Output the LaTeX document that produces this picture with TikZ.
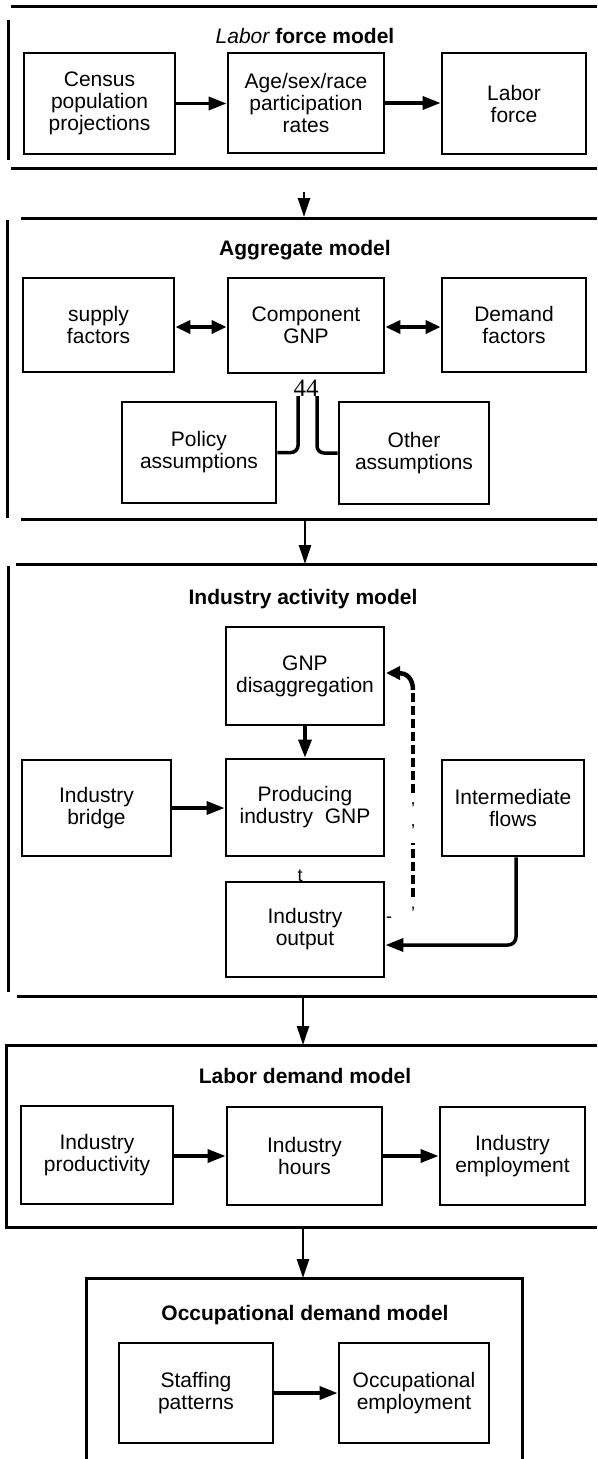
\documentclass[tikz,border=0pt]{standalone}
\usepackage{fontspec}
\setmainfont{Liberation Sans}
\newfontfamily\numfont{Liberation Serif}
\usetikzlibrary{arrows.meta}
\begin{document}
\begin{tikzpicture}[x=1pt,y=-1pt,
  bx/.style={draw,line width=2.8pt,inner sep=0pt,align=center,font=\fontsize{21}{22}\selectfont},
  ttl/.style={anchor=base,inner sep=0pt,font=\fontsize{21}{22}\selectfont\bfseries},
  secline/.style={line width=3pt},
  flow/.style={line width=3.5pt,-{Triangle[length=18pt,width=13pt]}},
  both/.style={line width=3.5pt,{Triangle[length=15pt,width=13pt]}-{Triangle[length=15pt,width=13pt]}},
  down/.style={line width=2.5pt,-{Triangle[length=19pt,width=12pt]}},
  feed/.style={line width=3.5pt,rounded corners=7pt},
  dashline/.style={line width=4.5pt,dash pattern=on 9pt off 4pt},
  glyph/.style={inner sep=0pt,font=\fontsize{18}{18}\selectfont}
]
\useasboundingbox (0,0) rectangle (597,1459);

% ---------- Section 1: Labor force model
\draw[secline] (11,6) -- (597,6);
\draw[secline] (8,20) -- (8,160);
\draw[secline] (11,168) -- (597,168);
\node[ttl] (t1) at (305,43) {{\mdseries\itshape Labor} force model};
\node[bx,minimum width=151pt,minimum height=101pt] (census) at (99.5,103.5) {Census\\population\\projections};
\node[bx,minimum width=156pt,minimum height=100pt] (age) at (306,103) {Age/sex/race\\participation\\rates};
\node[bx,minimum width=144pt,minimum height=101pt] (lf) at (514,103.5) {Labor\\force};
\draw[flow] (census.east) -- (census.east -| age.west);
\draw[flow] (age.east) -- (age.east -| lf.west);

\coordinate (s1b) at (304,192);
\coordinate (s2t) at (304,217);
\draw[down] (s1b) -- (s2t);

% ---------- Section 2: Aggregate model
\draw[secline] (21,218) -- (597,218);
\draw[secline] (7,220) -- (7,518);
\draw[secline] (21,519) -- (597,519);
\node[ttl] (t2) at (305,255) {Aggregate model};
\node[bx,minimum width=151pt,minimum height=94pt] (supply) at (98.5,325) {supply\\factors};
\node[bx,minimum width=156pt,minimum height=95pt] (comp) at (306,325.5) {Component\\GNP};
\node[bx,minimum width=144pt,minimum height=94pt] (demand) at (514,325) {Demand\\factors};
\draw[both] (supply.east |- 0,327) -- (comp.west |- 0,327);
\draw[both] (comp.east |- 0,327) -- (demand.west |- 0,327);
\node[inner sep=0pt,font=\numfont\fontsize{25}{25}\selectfont] (ff) at (306,388) {44};
\node[bx,minimum width=154pt,minimum height=101pt] (policy) at (199,452.5) {Policy\\assumptions};
\node[bx,minimum width=150pt,minimum height=102pt] (other) at (414,453) {Other\\assumptions};
\coordinate (pend) at (298,396);
\coordinate (oend) at (317,396);
\draw[feed] (policy.east) -- (pend |- policy.east) -- (pend);
\draw[feed] (other.west) -- (oend |- other.west) -- (oend);

\coordinate (s2b) at (305,521);
\coordinate (s3t) at (305,564);
\draw[down] (s2b) -- (s3t);

% ---------- Section 3: Industry activity model
\draw[secline] (16,564) -- (597,564);
\draw[secline] (8,566) -- (8,992);
\draw[secline] (17,996) -- (597,996);
\node[ttl] (t3) at (303,604) {Industry activity model};
\node[bx,minimum width=158pt,minimum height=98pt] (disagg) at (305,676) {GNP\\disaggregation};
\node[bx,minimum width=158pt,minimum height=97pt] (prod) at (305,807.5) {Producing\\industry\ \ GNP};
\node[bx,minimum width=149pt,minimum height=96pt] (bridge) at (96.5,808) {Industry\\bridge};
\node[bx,minimum width=142pt,minimum height=96pt] (inter) at (513,808) {Intermediate\\flows};
\node[bx,minimum width=158pt,minimum height=95pt] (output) at (305,929.5) {Industry\\output};
\draw[flow] (disagg) -- (prod);
\draw[flow] (bridge.east) -- (bridge.east -| prod.west);
\draw[flow,rounded corners=8pt] ([xshift=3pt]inter.south) -- ([xshift=3pt]inter.south |- 0,945) -- (output.east |- 0,945);

\node[glyph,anchor=base] (tt) at (300,881) {t};
\node[glyph] (dash1) at (389,920) {-};
\node[glyph] (apos) at (413,913) {'};
\node[glyph] (com1) at (413,805) {,};
\node[glyph] (com2) at (413,827) {,};

\coordinate (dA) at (413,897);
\coordinate (dB) at (413,843);
\coordinate (dC) at (413,793);
\coordinate (dD) at (413,690);
\coordinate (dE) at (386,673);
\draw[dashline] (dA) -- (dB);
\draw[dashline] (dC) -- (dD);
\draw[line width=4.5pt,-{Triangle[length=14pt,width=13pt]}] (dD) .. controls (413,678) and (406,673) .. (dE);

\coordinate (s3b) at (303,998);
\coordinate (s4t) at (303,1045);
\draw[down] (s3b) -- (s4t);

% ---------- Section 4: Labor demand model
\draw[secline] (597,1045) -- (6,1045) -- (6,1227) -- (597,1227);
\node[ttl] (t4) at (305,1083) {Labor demand model};
\node[bx,minimum width=152pt,minimum height=98pt] (produc) at (97,1155) {Industry\\productivity};
\node[bx,minimum width=155pt,minimum height=98pt] (hours) at (304.5,1156) {Industry\\hours};
\node[bx,minimum width=145pt,minimum height=98pt] (empl) at (512.5,1156) {Industry\\employment};
\draw[flow] (produc.east |- 0,1156) -- (hours.west |- 0,1156);
\draw[flow] (hours.east) -- (hours.east -| empl.west);

\coordinate (s4b) at (303,1229);
\coordinate (s5t) at (303,1278);
\draw[down] (s4b) -- (s5t);

% ---------- Section 5: Occupational demand model
\draw[secline] (86,1470) -- (86,1278) -- (522,1278) -- (522,1470);
\node[ttl] (t5) at (305,1320) {Occupational demand model};
\node[bx,minimum width=154pt,minimum height=100pt] (staff) at (196,1393) {Staffing\\patterns};
\node[bx,minimum width=150pt,minimum height=100pt] (occ) at (414,1393) {Occupational\\employment};
\draw[flow] (staff.east) -- (staff.east -| occ.west);
\end{tikzpicture}
\end{document}
